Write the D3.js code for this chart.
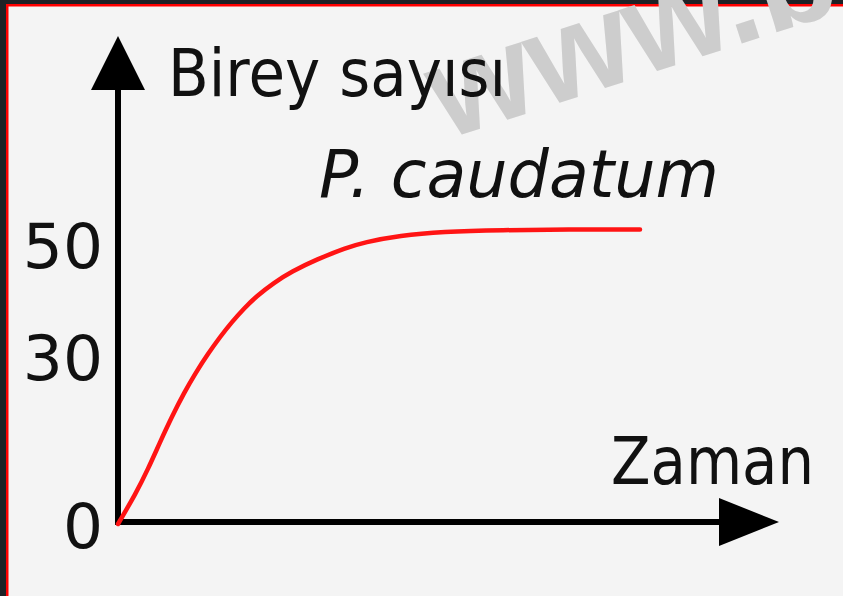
<!DOCTYPE html>
<html>
<head>
<meta charset="utf-8">
<script src="https://cdn.jsdelivr.net/npm/d3@7"></script>
<style>
  html, body { margin: 0; padding: 0; background: #f4f4f4; }
  svg { display: block; }
</style>
</head>
<body>
<svg id="chart" width="843" height="596"></svg>
<script>
// Population growth of P. caudatum over time
const timePoints = [0, 3, 5, 7, 9, 11, 13, 15, 17, 19, 21, 23, 26, 29, 33, 38, 41, 47, 54, 64, 75, 87];
const population = [0, 5.5, 9.8, 14.6, 19.2, 23.4, 27.1, 30.4, 33.4, 36.1, 38.5, 40.6, 43.1, 45.1, 47.2, 49.3, 50.3, 51.5, 52.2, 52.5, 52.6, 52.6];
const yTicks = [0, 30, 50];
const yTitle = "Birey sayısı";
const xTitle = "Zaman";
const seriesName = "P. caudatum";

const svg = d3.select("#chart");
const font = "'DejaVu Sans', Verdana, sans-serif";

// page frame
svg.append("rect").attr("x", 0).attr("y", 0).attr("width", 843).attr("height", 596).attr("fill", "#f4f4f4");
svg.append("rect").attr("x", 0).attr("y", 0).attr("width", 843).attr("height", 4).attr("fill", "#1e2226");
svg.append("rect").attr("x", 0).attr("y", 0).attr("width", 6).attr("height", 596).attr("fill", "#1e2226");
svg.append("rect").attr("x", 6).attr("y", 4).attr("width", 837).attr("height", 2.5).attr("fill", "#ff0000");
svg.append("rect").attr("x", 6).attr("y", 4).attr("width", 2.5).attr("height", 592).attr("fill", "#ff0000");

// watermark
svg.append("text")
  .attr("transform", "translate(445,140) rotate(-18)")
  .attr("font-family", "'Liberation Sans', Arial, sans-serif")
  .attr("font-weight", "bold")
  .attr("font-size", 132)
  .attr("fill", "#cdcdcd")
  .text("www.bi");

const x = d3.scaleLinear().domain([0, 100]).range([118, 718]);
const y = d3.scaleLinear().domain([0, 50]).range([524, 244]);

// y tick labels
const yAxis = d3.axisLeft(y).tickValues(yTicks).tickSize(0).tickPadding(15);
const gy = svg.append("g").attr("transform", `translate(${x(0)},0)`).call(yAxis);
gy.select(".domain").remove();
gy.selectAll("text")
  .attr("font-family", font)
  .attr("font-size", 63)
  .attr("fill", "#111")
  .attr("dy", "0.37em");

// axes with arrowheads
const axisTop = 88, axisRight = 720;
svg.append("line")
  .attr("x1", x(0)).attr("x2", x(0))
  .attr("y1", axisTop).attr("y2", y(0) + 1)
  .attr("stroke", "#000").attr("stroke-width", 6);
svg.append("line")
  .attr("x1", x(0) - 3).attr("x2", axisRight)
  .attr("y1", y(0) - 2).attr("y2", y(0) - 2)
  .attr("stroke", "#000").attr("stroke-width", 6);
svg.append("path")
  .attr("d", `M${x(0)},36 L${x(0) + 27},90 L${x(0) - 27},90 Z`)
  .attr("fill", "#000");
svg.append("path")
  .attr("d", `M779,${y(0) - 2} L719,${y(0) - 26} L719,${y(0) + 22} Z`)
  .attr("fill", "#000");

// growth curve
const line = d3.line()
  .x((d, i) => x(timePoints[i]))
  .y(d => y(d))
  .curve(d3.curveBasis);
svg.append("path")
  .datum(population)
  .attr("d", line)
  .attr("fill", "none")
  .attr("stroke", "#ff1414")
  .attr("stroke-width", 4.5)
  .attr("stroke-linecap", "round");

// titles
svg.append("text")
  .attr("x", 168).attr("y", 96)
  .attr("font-family", font).attr("font-size", 66).attr("fill", "#111")
  .attr("textLength", 338).attr("lengthAdjust", "spacingAndGlyphs")
  .text(yTitle);
svg.append("text")
  .attr("x", 319).attr("y", 197)
  .attr("font-family", font).attr("font-style", "italic").attr("font-size", 66).attr("fill", "#111")
  .attr("textLength", 400).attr("lengthAdjust", "spacingAndGlyphs")
  .text(seriesName);
svg.append("text")
  .attr("x", 611).attr("y", 484)
  .attr("font-family", font).attr("font-size", 66).attr("fill", "#111")
  .attr("textLength", 203).attr("lengthAdjust", "spacingAndGlyphs")
  .text(xTitle);
</script>
</body>
</html>
